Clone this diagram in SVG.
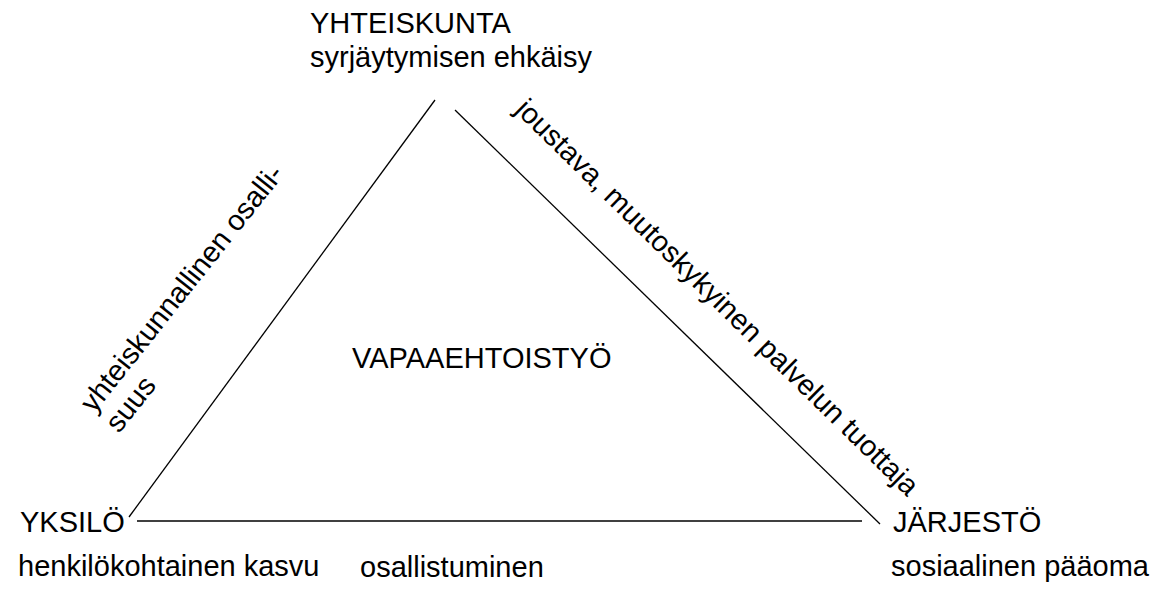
<svg xmlns="http://www.w3.org/2000/svg" width="1168" height="605" viewBox="0 0 1168 605">
<style>
text{font-family:"Liberation Sans",Arial,sans-serif;font-size:29px;fill:#000}
.ln{stroke:#000;stroke-width:1.3;fill:none}
</style>
<rect width="1168" height="605" fill="#fff"/>
<g id="connectors">
<line class="ln" x1="129" y1="517" x2="435" y2="100"/>
<line class="ln" x1="455" y1="110" x2="880" y2="524"/>
<line class="ln" x1="137" y1="521" x2="862" y2="521"/>
</g>
<g id="yhteiskunta">
<text x="310" y="33">YHTEISKUNTA</text>
<text x="310" y="67">syrjäytymisen ehkäisy</text>
</g>
<g id="yksilo">
<text x="20" y="532">YKSILÖ</text>
<text x="18" y="576">henkilökohtainen kasvu</text>
</g>
<g id="jarjesto">
<text x="893" y="532">JÄRJESTÖ</text>
<text x="891" y="576">sosiaalinen pääoma</text>
</g>
<g id="center">
<text x="352" y="368">VAPAAEHTOISTYÖ</text>
</g>
<g id="label-bottom">
<text x="360" y="577">osallistuminen</text>
</g>
<g id="label-left" transform="translate(94,414) rotate(-51.5)">
<text x="0" y="0">yhteiskunnallinen osalli-</text>
<text x="0" y="32">suus</text>
</g>
<g id="label-right" transform="translate(514,111) rotate(44.5)">
<text x="0" y="0">joustava, muutoskykyinen palvelun tuottaja</text>
</g>
</svg>
